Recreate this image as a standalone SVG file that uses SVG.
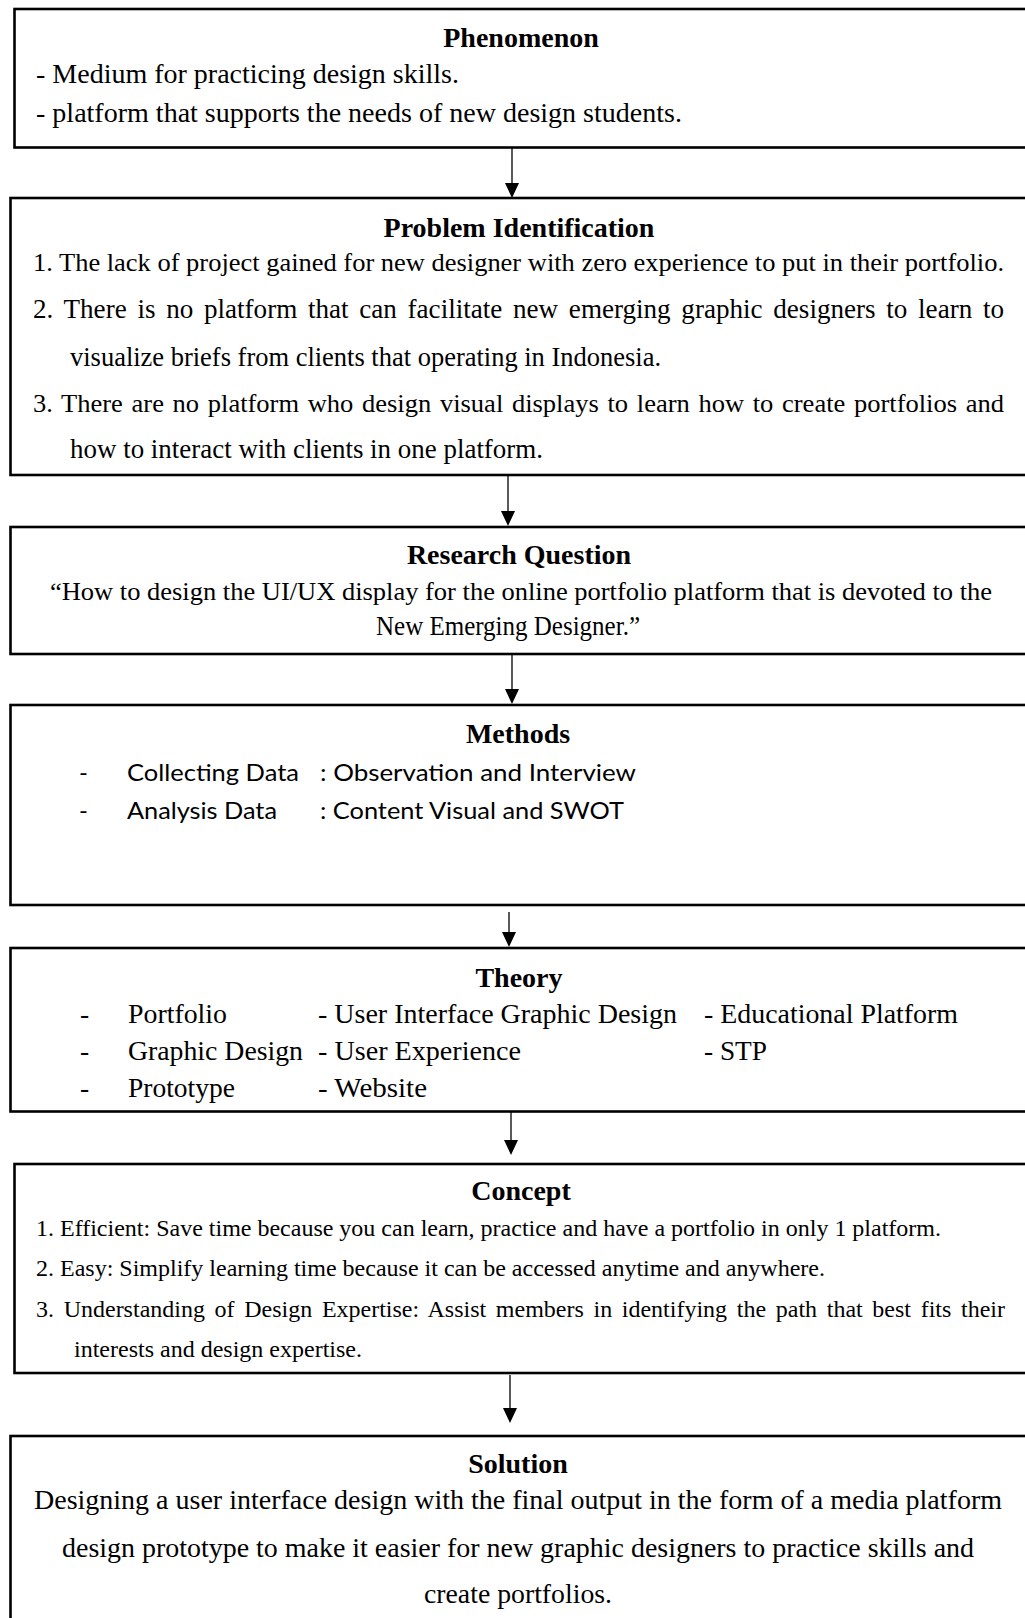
<svg xmlns="http://www.w3.org/2000/svg" width="1025" height="1618" viewBox="0 0 1025 1618">
<defs>
<style>
.box{fill:#fff;stroke:#000;stroke-width:2.6}
.t{font-family:"Liberation Serif","Times New Roman",serif;font-size:28px;font-weight:bold;text-anchor:middle;fill:#000}
.b{font-family:"Liberation Serif","Times New Roman",serif;font-size:27.5px;fill:#000}
.n{font-size:26px}
.c{font-family:"Liberation Serif","Times New Roman",serif;font-size:23.5px;fill:#000}
.s{font-family:Lato,"Liberation Sans",sans-serif;font-size:24px;fill:#000}
.conn{stroke:#000;stroke-width:1.3;fill:none}
.head{fill:#000}
</style>
</defs>
<rect width="1025" height="1618" fill="#fff"/>
<g id="connectors">
<path class="conn" d="M512,148 V184"/><path class="head" d="M505,183 L519,183 L512,198 Z"/>
<path class="conn" d="M508,476 V512"/><path class="head" d="M501,511 L515,511 L508,526 Z"/>
<path class="conn" d="M512,655 V690"/><path class="head" d="M505,689 L519,689 L512,704 Z"/>
<path class="conn" d="M509,912 V933"/><path class="head" d="M502,932 L516,932 L509,947 Z"/>
<path class="conn" d="M511,1102 V1141"/><path class="head" d="M504,1140 L518,1140 L511,1155 Z"/>
<path class="conn" d="M510,1375 V1409"/><path class="head" d="M503,1408 L517,1408 L510,1423 Z"/>
</g>
<g id="phenomenon">
<rect class="box" x="14.5" y="9" width="1030" height="138.5"/>
<text class="t" x="521" y="47">Phenomenon</text>
<text class="b" x="36" y="83" textLength="423" lengthAdjust="spacingAndGlyphs">- Medium for practicing design skills.</text>
<text class="b" x="36" y="122" textLength="646" lengthAdjust="spacingAndGlyphs">- platform that supports the needs of new design students.</text>
</g>
<g id="problem">
<rect class="box" x="10.5" y="198" width="1030" height="277"/>
<text class="t" x="519" y="237">Problem Identification</text>
<text class="b n" x="33" y="271" textLength="971" lengthAdjust="spacingAndGlyphs">1. The lack of project gained for new designer with zero experience to put in their portfolio.</text>
<text class="b" x="33" y="318" word-spacing="4" textLength="971" lengthAdjust="spacingAndGlyphs">2. There is no platform that can facilitate new emerging graphic designers to learn to</text>
<text class="b" x="70" y="366" textLength="591" lengthAdjust="spacingAndGlyphs">visualize briefs from clients that operating in Indonesia.</text>
<text class="b n" x="33" y="412" word-spacing="2" textLength="971" lengthAdjust="spacingAndGlyphs">3. There are no platform who design visual displays to learn how to create portfolios and</text>
<text class="b" x="70" y="458" textLength="473" lengthAdjust="spacingAndGlyphs">how to interact with clients in one platform.</text>
</g>
<g id="research">
<rect class="box" x="10.5" y="527" width="1030" height="127"/>
<text class="t" x="519" y="564">Research Question</text>
<text class="b n" x="521" y="600" text-anchor="middle" textLength="942" lengthAdjust="spacingAndGlyphs">“How to design the UI/UX display for the online portfolio platform that is devoted to the</text>
<text class="b" x="508" y="635" text-anchor="middle" textLength="264" lengthAdjust="spacingAndGlyphs">New Emerging Designer.”</text>
</g>
<g id="methods">
<rect class="box" x="10.5" y="705" width="1030" height="200"/>
<text class="t" x="518" y="743">Methods</text>
<text class="s" x="79" y="781">-</text>
<text class="s" x="127" y="781" textLength="172" lengthAdjust="spacingAndGlyphs">Collecting Data</text>
<text class="s" x="320" y="781" textLength="316" lengthAdjust="spacingAndGlyphs">: Observation and Interview</text>
<text class="s" x="79" y="819">-</text>
<text class="s" x="127" y="819" textLength="150" lengthAdjust="spacingAndGlyphs">Analysis Data</text>
<text class="s" x="320" y="819" textLength="304" lengthAdjust="spacingAndGlyphs">: Content Visual and SWOT</text>
</g>
<g id="theory">
<rect class="box" x="10.5" y="948" width="1030" height="163.5"/>
<text class="t" x="519" y="987">Theory</text>
<text class="b" x="80" y="1023">-</text>
<text class="b" x="128" y="1023" textLength="99" lengthAdjust="spacingAndGlyphs">Portfolio</text>
<text class="b" x="318" y="1023" textLength="359" lengthAdjust="spacingAndGlyphs">- User Interface Graphic Design</text>
<text class="b" x="704" y="1023" textLength="254" lengthAdjust="spacingAndGlyphs">- Educational Platform</text>
<text class="b" x="80" y="1060">-</text>
<text class="b" x="128" y="1060" textLength="175" lengthAdjust="spacingAndGlyphs">Graphic Design</text>
<text class="b" x="318" y="1060" textLength="203" lengthAdjust="spacingAndGlyphs">- User Experience</text>
<text class="b" x="704" y="1060" textLength="63" lengthAdjust="spacingAndGlyphs">- STP</text>
<text class="b" x="80" y="1097">-</text>
<text class="b" x="128" y="1097" textLength="107" lengthAdjust="spacingAndGlyphs">Prototype</text>
<text class="b" x="318" y="1097" textLength="109" lengthAdjust="spacingAndGlyphs">- Website</text>
</g>
<g id="concept">
<rect class="box" x="14.5" y="1164" width="1030" height="209"/>
<text class="t" x="521" y="1200">Concept</text>
<text class="c" x="36" y="1236" textLength="905" lengthAdjust="spacingAndGlyphs">1. Efficient: Save time because you can learn, practice and have a portfolio in only 1 platform.</text>
<text class="c" x="36" y="1276" textLength="789" lengthAdjust="spacingAndGlyphs">2. Easy: Simplify learning time because it can be accessed anytime and anywhere.</text>
<text class="c" x="36" y="1317" word-spacing="3.6" textLength="969" lengthAdjust="spacingAndGlyphs">3. Understanding of Design Expertise: Assist members in identifying the path that best fits their</text>
<text class="c" x="74" y="1357" textLength="288" lengthAdjust="spacingAndGlyphs">interests and design expertise.</text>
</g>
<g id="solution">
<rect class="box" x="10.5" y="1436" width="1030" height="300"/>
<text class="t" x="518" y="1473">Solution</text>
<text class="b" x="34" y="1509" textLength="968" lengthAdjust="spacingAndGlyphs">Designing a user interface design with the final output in the form of a media platform</text>
<text class="b" x="62" y="1557" textLength="912" lengthAdjust="spacingAndGlyphs">design prototype to make it easier for new graphic designers to practice skills and</text>
<text class="b" x="518" y="1603" text-anchor="middle" textLength="188" lengthAdjust="spacingAndGlyphs">create portfolios.</text>
</g>
</svg>
